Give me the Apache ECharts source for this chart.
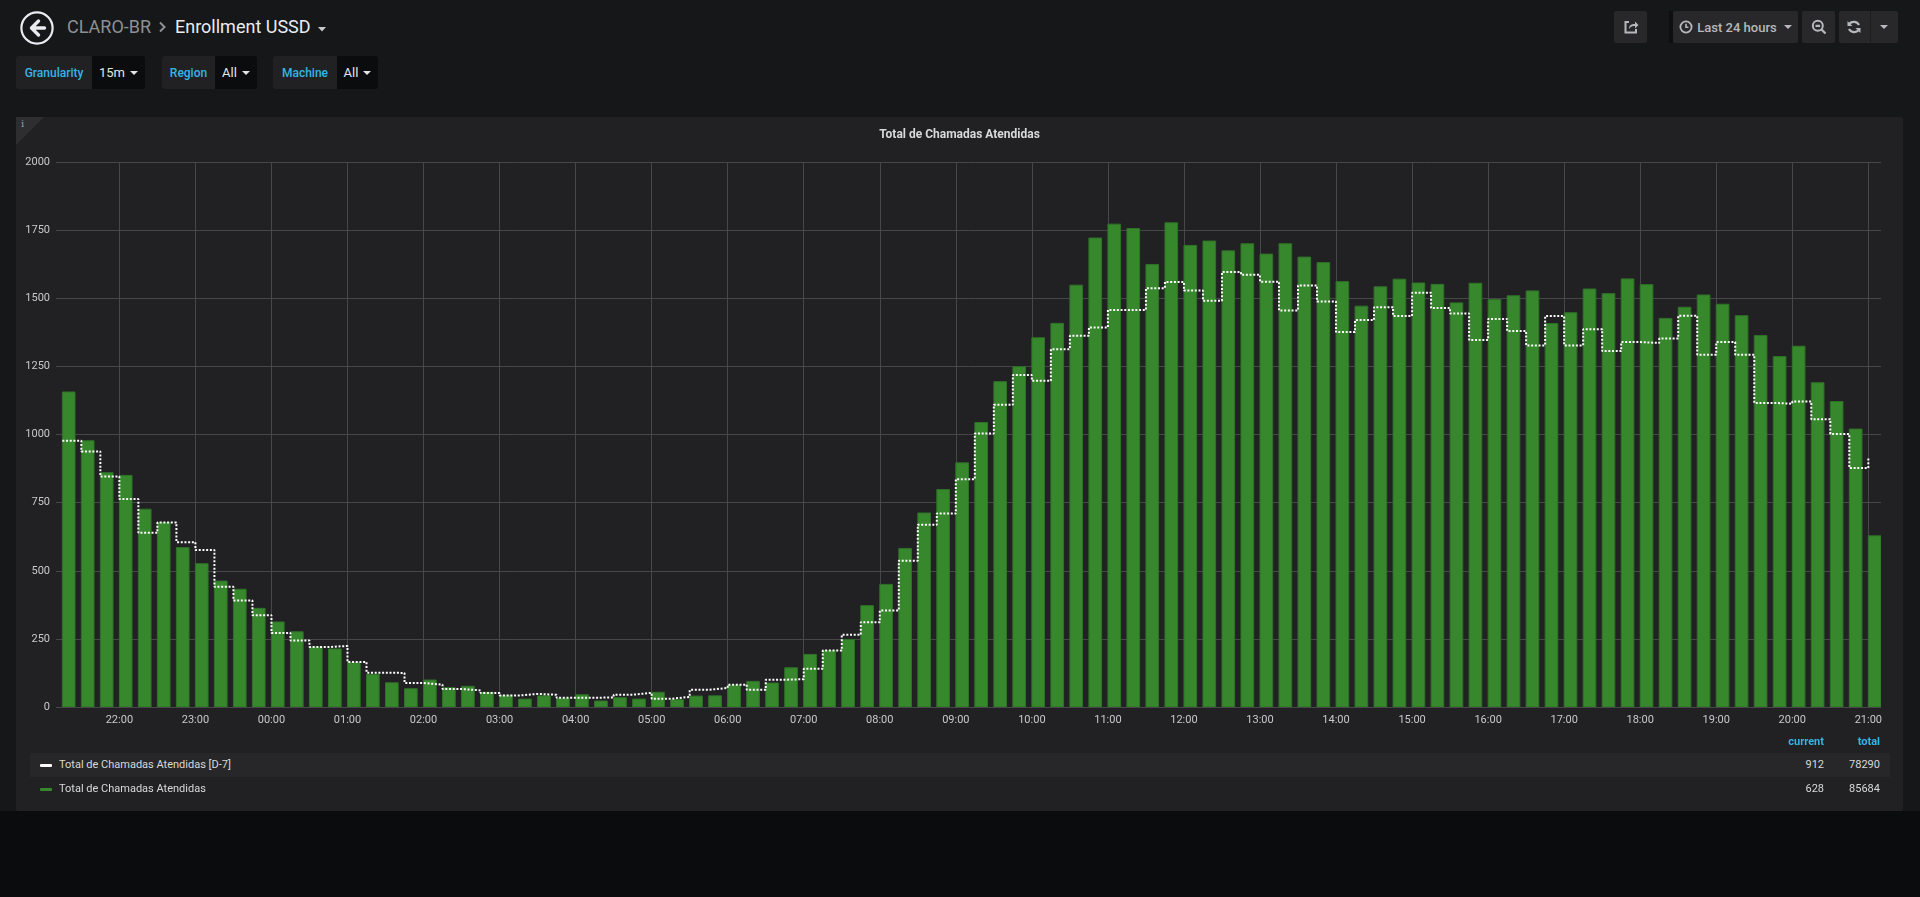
<!DOCTYPE html>
<html>
<head>
<meta charset="utf-8">
<title>Enrollment USSD</title>
<script src="https://cdn.jsdelivr.net/npm/echarts@6/dist/echarts.min.js"></script>
<style>
  html, body { margin: 0; padding: 0; }
  body {
    width: 1920px; height: 897px; overflow: hidden; position: relative;
    background: #0b0c0e;
    font-family: Roboto, "Helvetica Neue", Arial, sans-serif;
  }
  .page { position: absolute; left: 0; top: 0; width: 1920px; height: 811px; background: #161719; }
  .abs { position: absolute; white-space: nowrap; }
  .crumb { top: 16px; height: 22px; line-height: 22px; font-size: 18px; }
  .var { position: absolute; top: 56px; height: 33px; display: flex; border-radius: 3px; overflow: hidden; }
  .var .lbl { background: #212124; color: #33b5e5; font-size: 12px; font-weight: 500;
              display: flex; align-items: center; justify-content: center; }
  .var .val { background: #0b0c0e; color: #e3e4e6; font-size: 13px;
              display: flex; align-items: center; justify-content: center; }
  .caret { display: inline-block; width: 0; height: 0; margin-left: 5px;
           border-left: 4px solid transparent; border-right: 4px solid transparent; border-top: 4px solid #e3e4e6; }
  .btn { position: absolute; top: 11px; height: 32px; background: #28282b; border-radius: 2px;
         display: flex; align-items: center; justify-content: center; color: #b6b8bb; font-size: 13px; font-weight: 500; }
  .panel { position: absolute; left: 16px; top: 117px; width: 1887px; height: 694px; background: #212124; border-radius: 2px; }
  #chart { position: absolute; left: 16px; top: 117px; width: 1887px; height: 694px; }
  .corner { position: absolute; left: 16px; top: 117px; width: 0; height: 0;
            border-style: solid; border-width: 28px 28px 0 0;
            border-color: #2e2e31 transparent transparent transparent; }
  .lg { position: absolute; font-size: 11px; color: #d8d9da; height: 24px; line-height: 24px; }
  .lg-h { position: absolute; font-size: 11px; font-weight: bold; color: #33b5e5; top: 735px; line-height: 14px; }
</style>
</head>
<body>
<div class="page"></div>

<!-- navbar -->
<svg class="abs" style="left:20px;top:11px" width="34" height="34" viewBox="0 0 34 34">
  <circle cx="17" cy="17" r="15.6" fill="none" stroke="#e9edf2" stroke-width="2.2"/>
  <path d="M18.5 10 L11.5 17 L18.5 24 M11.5 17 H24.5" fill="none" stroke="#e9edf2" stroke-width="3.4" stroke-linecap="round" stroke-linejoin="round"/>
</svg>
<div class="abs crumb" style="left:67px;color:#8e9094">CLARO-BR</div>
<svg class="abs" style="left:157px;top:21px" width="10" height="12" viewBox="0 0 10 12">
  <path d="M3 1.5 L7.5 6 L3 10.5" fill="none" stroke="#8e9094" stroke-width="2"/>
</svg>
<div class="abs crumb" style="left:175px;color:#e9edf2">Enrollment USSD</div>
<svg class="abs" style="left:318px;top:27px" width="8" height="5" viewBox="0 0 8 5">
  <path d="M0 0 H8 L4 4.5 Z" fill="#c8c9cb"/>
</svg>

<!-- top right buttons -->
<div class="btn" style="left:1614px;width:33px">
  <svg width="16" height="16" viewBox="0 0 16 16">
    <path d="M6 3 H2.5 V13.5 H13 V10" fill="none" stroke="#b6b8bb" stroke-width="2"/>
    <path d="M6 10 C6 6 8.5 5 12 5 V2.5 L15.5 6 L12 9.5 V7 C9.5 7 7.5 7.5 6 10 Z" fill="#b6b8bb"/>
  </svg>
</div>
<div class="abs" style="left:1669px;top:11px;width:4px;height:32px;background:#0e0f10"></div>
<div class="btn" style="left:1673px;width:125px">
  <svg width="14" height="14" viewBox="0 0 14 14" style="margin-right:4px">
    <circle cx="7" cy="7" r="5.6" fill="none" stroke="#b6b8bb" stroke-width="1.8"/>
    <path d="M7 3.8 V7.3 H9.4" fill="none" stroke="#b6b8bb" stroke-width="1.6"/>
  </svg>
  <span>Last 24 hours</span>
  <span class="caret" style="margin-left:7px;border-top-color:#b6b8bb"></span>
</div>
<div class="btn" style="left:1802px;width:33px">
  <svg width="16" height="16" viewBox="0 0 16 16">
    <circle cx="6.8" cy="6.8" r="5" fill="none" stroke="#b6b8bb" stroke-width="2"/>
    <path d="M4.5 6.8 H9.1 M10.4 10.4 L14.5 14.5" fill="none" stroke="#b6b8bb" stroke-width="2.2"/>
  </svg>
</div>
<div class="btn" style="left:1839px;width:59px;justify-content:flex-start">
  <svg width="31" height="16" viewBox="0 0 31 16" style="margin-left:7px">
    <path d="M13 6 A6 6 0 0 0 3.2 5 M3 10 A6 6 0 0 0 12.8 11" fill="none" stroke="#b6b8bb" stroke-width="2.2"/>
    <path d="M1.5 2 V7 H6.5 Z M14.5 14 V9 H9.5 Z" fill="#b6b8bb"/>
  </svg>
</div>
<div class="abs" style="left:1870px;top:11px;width:1px;height:32px;background:#1d1d1f"></div>
<div class="abs" style="left:1880px;top:25px;width:0;height:0;border-left:4px solid transparent;border-right:4px solid transparent;border-top:4px solid #b6b8bb"></div>

<!-- template variables -->
<div class="var" style="left:16px">
  <div class="lbl" style="width:76px">Granularity</div>
  <div class="val" style="width:53px">15m<span class="caret"></span></div>
</div>
<div class="var" style="left:162px">
  <div class="lbl" style="width:53px">Region</div>
  <div class="val" style="width:42px">All<span class="caret"></span></div>
</div>
<div class="var" style="left:273px">
  <div class="lbl" style="width:64px">Machine</div>
  <div class="val" style="width:41px">All<span class="caret"></span></div>
</div>

<!-- panel -->
<div class="panel"></div>
<div class="corner"></div>
<div class="abs" style="left:21px;top:118px;font-size:10px;color:#9a9b9e;font-family:'DejaVu Serif',serif">i</div>
<div id="chart"></div>
<div id="legend"></div>

<script>
// 15 minute buckets, first bucket 21:15 of the previous day
var firstBucket = Date.UTC(2019, 2, 9, 21, 15);
var bucketMs = 15 * 60 * 1000;
var barMs = 10 * 60 * 1000;
var axisMin = Date.UTC(2019, 2, 9, 21, 10);
var axisMax = Date.UTC(2019, 2, 10, 21, 10);

var hourLabels = ['22:00', '23:00', '00:00', '01:00', '02:00', '03:00', '04:00', '05:00',
                  '06:00', '07:00', '08:00', '09:00', '10:00', '11:00', '12:00', '13:00',
                  '14:00', '15:00', '16:00', '17:00', '18:00', '19:00', '20:00', '21:00'];
var firstHour = Date.UTC(2019, 2, 9, 22, 0);

var yTicks = [0, 250, 500, 750, 1000, 1250, 1500, 1750, 2000];

// Total de Chamadas Atendidas
var callsToday = [
  1156, 977, 860, 850, 726, 677, 585, 526, 462, 432,
  362, 312, 276, 220, 213, 163, 120, 89, 67, 99,
  71, 76, 54, 43, 29, 41, 32, 45, 22, 34,
  29, 54, 27, 40, 41, 80, 94, 88, 144, 193,
  207, 248, 372, 450, 582, 712, 798, 896, 1044, 1194,
  1249, 1355, 1408, 1548, 1721, 1772, 1756, 1624, 1777, 1694,
  1710, 1674, 1700, 1662, 1700, 1651, 1631, 1561, 1471, 1542,
  1570, 1556, 1551, 1483, 1555, 1495, 1509, 1527, 1407, 1447,
  1534, 1517, 1571, 1550, 1426, 1467, 1512, 1478, 1436, 1363,
  1286, 1324, 1190, 1121, 1020, 628
];

// Total de Chamadas Atendidas [D-7]
var callsD7 = [
  977, 938, 846, 763, 639, 677, 605, 576, 441, 391,
  337, 272, 244, 220, 224, 165, 126, 125, 88, 82,
  66, 61, 51, 42, 48, 45, 34, 34, 35, 45,
  52, 30, 37, 63, 70, 82, 63, 100, 102, 140,
  207, 265, 311, 354, 537, 669, 710, 836, 1004, 1109,
  1218, 1197, 1313, 1362, 1393, 1457, 1457, 1537, 1560, 1528,
  1491, 1596, 1586, 1561, 1455, 1547, 1488, 1376, 1420, 1467,
  1435, 1520, 1464, 1444, 1347, 1424, 1380, 1327, 1435, 1327,
  1386, 1306, 1339, 1336, 1352, 1436, 1293, 1339, 1293, 1116,
  1113, 1121, 1056, 1002, 877, 912
];

var legendNames = ['Total de Chamadas Atendidas [D-7]', 'Total de Chamadas Atendidas'];
var legendColors = ['#ffffff', '#37872d'];
var legendCurrent = ['912', '628'];
var legendTotal = ['78290', '85684'];

function toPairs(values) {
  var out = [];
  for (var i = 0; i < values.length; i++) out.push([firstBucket + i * bucketMs, values[i]]);
  return out;
}

var hourTicks = hourLabels.map(function (l, i) { return firstHour + i * 3600 * 1000; });

var chart = echarts.init(document.getElementById('chart'));
chart.setOption({
  animation: false,
  backgroundColor: 'transparent',
  title: {
    text: 'Total de Chamadas Atendidas',
    left: 'center',
    top: 7,
    textStyle: { color: '#d8d9da', fontSize: 12, fontWeight: 'bold', fontFamily: 'Roboto' }
  },
  grid: { left: 40, right: 22, top: 45, bottom: 104, outerBoundsMode: 'none' },
  xAxis: {
    type: 'value',
    min: axisMin,
    max: axisMax,
    axisLine: { show: false },
    axisTick: { show: false, customValues: hourTicks },
    axisLabel: {
      customValues: hourTicks,
      color: '#c8c9cb', fontSize: 11, fontFamily: 'Roboto', margin: 8,
      formatter: function (v) {
        return hourLabels[Math.round((v - firstHour) / 3600000)] || '';
      }
    },
    splitLine: { show: true, lineStyle: { color: '#47474a', width: 1 } }
  },
  yAxis: {
    type: 'value',
    min: yTicks[0],
    max: yTicks[yTicks.length - 1],
    interval: 250,
    axisLine: { show: false },
    axisTick: { show: false },
    axisLabel: {
      color: '#c8c9cb', fontSize: 11, fontFamily: 'Roboto', margin: 6,
      formatter: function (v) { return String(v); }
    },
    splitLine: { lineStyle: { color: '#47474a', width: 1 } }
  },
  series: [
    {
      name: legendNames[1],
      type: 'custom',
      clip: true,
      encode: { x: 0, y: 1 },
      data: toPairs(callsToday),
      renderItem: function (params, api) {
        var t = api.value(0);
        var p0 = api.coord([t, 0]);
        var p1 = api.coord([t + barMs, api.value(1)]);
        return {
          type: 'rect',
          shape: { x: p0[0], y: p1[1], width: p1[0] - p0[0], height: p0[1] - p1[1] },
          style: { fill: '#37872d', stroke: '#2f7227', lineWidth: 1 }
        };
      }
    },
    {
      name: legendNames[0],
      type: 'line',
      step: 'end',
      symbol: 'none',
      data: toPairs(callsD7),
      lineStyle: { color: '#ffffff', width: 2, type: [2, 1.7] },
      z: 3
    }
  ]
});

// legend table
var lg = document.getElementById('legend');
var h1 = document.createElement('div');
h1.className = 'lg-h'; h1.textContent = 'current';
h1.style.right = (1920 - 1824) + 'px';
lg.appendChild(h1);
var h2 = document.createElement('div');
h2.className = 'lg-h'; h2.textContent = 'total';
h2.style.right = (1920 - 1880) + 'px';
lg.appendChild(h2);

legendNames.forEach(function (name, i) {
  var top = 753 + i * 24;
  var row = document.createElement('div');
  row.className = 'lg';
  row.style.left = '30px';
  row.style.top = top + 'px';
  row.style.width = '1860px';
  if (i === 0) row.style.background = '#272729';
  lg.appendChild(row);

  var sw = document.createElement('div');
  sw.style.cssText = 'position:absolute;left:10px;top:11px;width:12px;height:3px;border-radius:1px;background:' + legendColors[i];
  row.appendChild(sw);

  var nm = document.createElement('div');
  nm.style.cssText = 'position:absolute;left:29px;top:0';
  nm.textContent = name;
  row.appendChild(nm);

  var cur = document.createElement('div');
  cur.style.cssText = 'position:absolute;right:66px;top:0';
  cur.textContent = legendCurrent[i];
  row.appendChild(cur);

  var tot = document.createElement('div');
  tot.style.cssText = 'position:absolute;right:10px;top:0';
  tot.textContent = legendTotal[i];
  row.appendChild(tot);
});
</script>
</body>
</html>
